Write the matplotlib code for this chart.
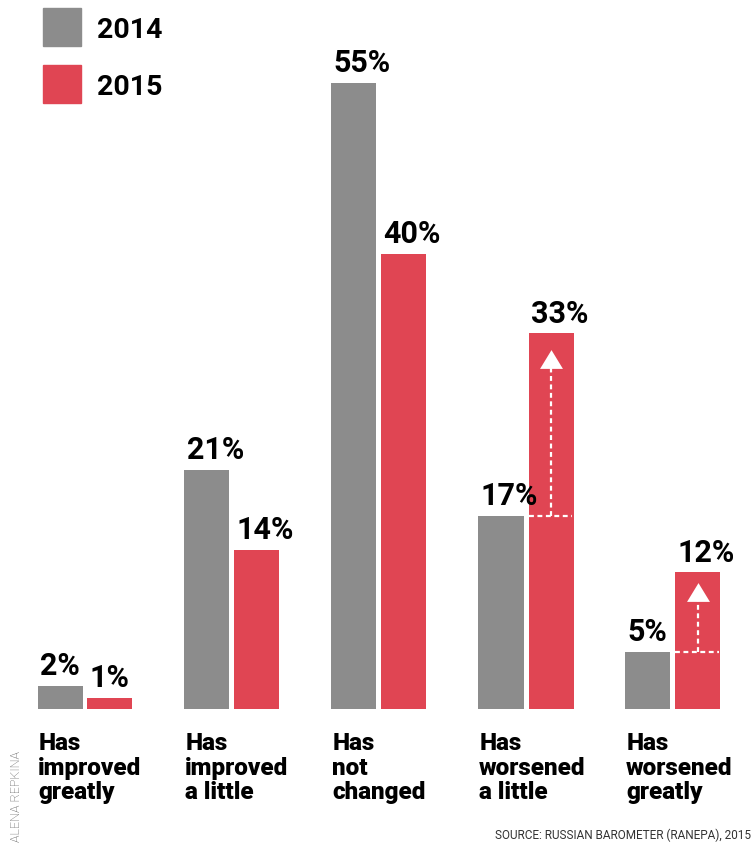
import numpy as np
import matplotlib.pyplot as plt
from matplotlib.path import Path
from matplotlib.patches import Rectangle

categories = ['Has\nimproved\ngreatly', 'Has\nimproved\na little', 'Has\nnot\nchanged',
              'Has\nworsened\na little', 'Has\nworsened\ngreatly']
share_2014 = [2, 21, 55, 17, 5]
share_2015 = [1, 14, 40, 33, 12]
years = ['2014', '2015']
rising = [3, 4]  # groups that get the dashed "up" arrow

GRAY = '#8c8c8c'
RED = '#e04553'
FONT = ['Roboto', 'DejaVu Sans']

W, H = 754, 845
fig = plt.figure(figsize=(W / 100, H / 100), dpi=100)

px_per_pct = 11.382
base_px = 710
step = 147.0
ax = fig.add_axes([0, (H - base_px) / H, 1, base_px / H])
ax.set_ylim(0, base_px / px_per_pct)
ax.set_xlim(-60.0 / step, (W - 60.0) / step)
ax.axis('off')

x = np.arange(len(categories))
bw = 45 / step
off = 50 / step
ax.bar(x, share_2014, width=bw, color=GRAY)
ax.bar(x + off, share_2015, width=bw, color=RED)

# value labels, left-aligned with each bar
for xs, vals in ((x, share_2014), (x + off, share_2015)):
    for xi, v in zip(xs, vals):
        ax.annotate(f'{v}%', xy=(xi - bw / 2, v), xytext=(1.5, 8.5), textcoords='offset points',
                    ha='left', va='baseline', fontsize=22, fontweight='bold',
                    family=FONT, color='black')

# category labels under the gray bars
for xi, lab in zip(x, categories):
    for k, line in enumerate(lab.split('\n')):
        ax.annotate(line, xy=(xi - bw / 2, 0), xytext=(0.5, -28.8 - 17.8 * k),
                    textcoords='offset points', ha='left', va='baseline',
                    fontsize=17.5, fontweight='black', family=FONT, color='black',
                    annotation_clip=False)

# dashed arrows showing the rise from 2014 to 2015
tri = Path([(-1, -0.82), (1, -0.82), (0, 0.82), (-1, -0.82)],
           [Path.MOVETO, Path.LINETO, Path.LINETO, Path.CLOSEPOLY])
head_h = 18 / px_per_pct
for i in rising:
    old, new = share_2014[i], share_2015[i]
    xc = x[i] + off
    tip = new - (1.5 if new > 20 else 0.9)
    ax.plot([xc - bw / 2, xc + bw / 2 - 0.01], [old, old], color='white', lw=1.6,
            ls=(0, (2.2, 1.6)), solid_capstyle='butt')
    ax.plot([xc, xc], [old, tip - head_h], color='white', lw=1.6,
            ls=(0, (2.2, 1.6)))
    ax.plot([xc], [tip - head_h / 2], marker=tri, markersize=16.5, color='white',
            markeredgewidth=0)

# legend
for k, (yr, col) in enumerate(zip(years, [GRAY, RED])):
    top = 9 + 57 * k
    fig.patches.append(Rectangle((43 / W, 1 - (top + 38) / H), 38 / W, 38 / H,
                                 transform=fig.transFigure, color=col))
    fig.text(97 / W, 1 - (top + 29) / H, yr, fontsize=20.5, fontweight='bold',
             family=FONT, ha='left', va='baseline')

fig.text(751 / W, 6 / H, 'SOURCE: RUSSIAN BAROMETER (RANEPA), 2015',
         fontsize=8.5, family=['Liberation Sans Narrow', 'Roboto', 'DejaVu Sans'],
         color='#333333', ha='right', va='baseline')
fig.text(23 / W, 3 / H, 'ALENA REPKINA', rotation=90, fontsize=9, fontweight='light',
         family=FONT, color='#555555', ha='right', va='bottom')

fig.savefig('out.png', dpi=100)
